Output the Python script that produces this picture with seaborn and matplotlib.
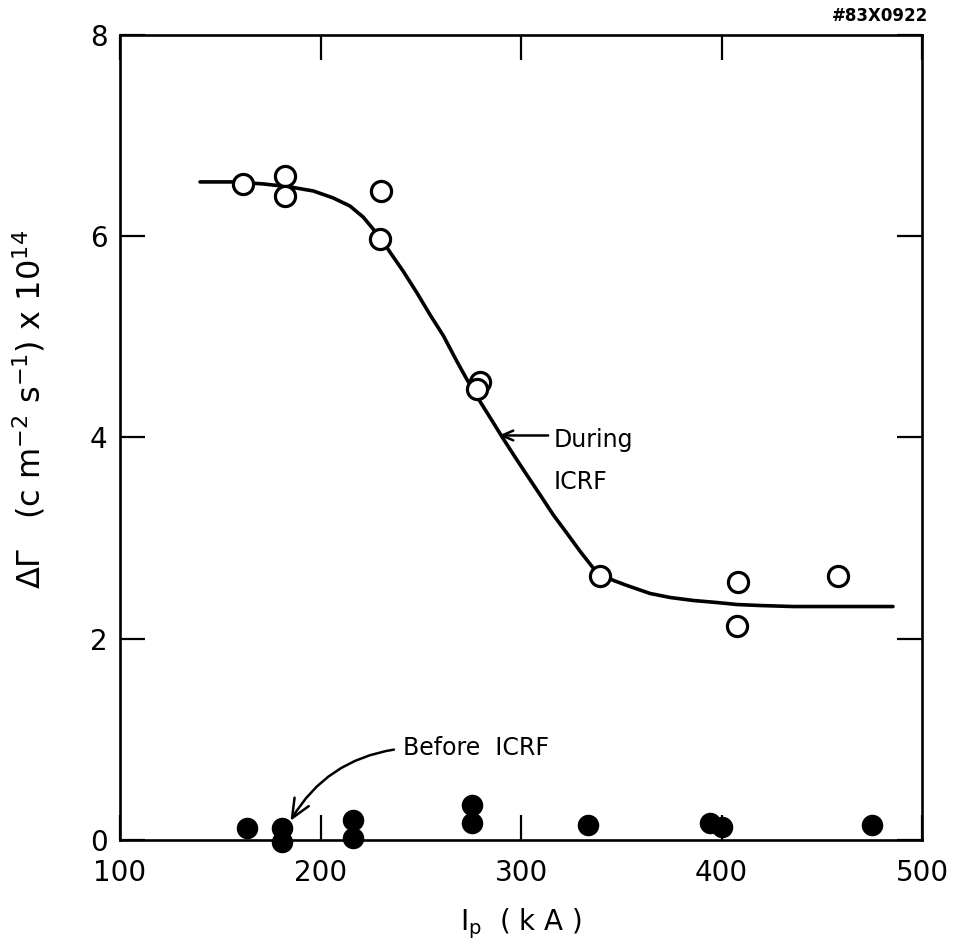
import matplotlib
matplotlib.use("Agg")
import matplotlib.pyplot as plt
import seaborn as sns
import pandas as pd

# During ICRF (open circles)
during_ip = [161.3, 182.3, 182.3, 230.2, 229.7, 279.6, 277.9, 339.4, 408.2, 407.7, 458.1]
during_val = [6.52, 6.60, 6.40, 6.45, 5.97, 4.55, 4.48, 2.62, 2.56, 2.13, 2.62]

# Before ICRF (filled circles)
before_ip = [163.2, 181.0, 181.0, 216.1, 216.1, 275.7, 275.7, 333.6, 394.0, 400.0, 475.0]
before_val = [0.12, 0.12, -0.02, 0.20, 0.02, 0.35, 0.17, 0.15, 0.17, 0.13, 0.15]

# Hand-drawn trend curve
curve_ip = [139.9, 156.5, 171.5, 184.8, 196.4, 206.4, 214.7, 221.3, 226.3, 229.7,
            234.7, 241.3, 248.0, 254.6, 261.3, 267.9, 272.9, 277.9, 284.5, 290.4,
            296.2, 302.8, 309.5, 316.1, 322.8, 329.4, 336.1, 340.2, 346.0, 352.7,
            364.3, 374.3, 385.9, 397.6, 407.6, 419.2, 435.7, 460.8, 485.5]
curve_val = [6.54, 6.54, 6.52, 6.49, 6.45, 6.38, 6.30, 6.19, 6.07, 5.99,
             5.84, 5.65, 5.44, 5.22, 5.01, 4.76, 4.58, 4.41, 4.20, 4.01,
             3.83, 3.63, 3.43, 3.23, 3.05, 2.87, 2.70, 2.64, 2.58, 2.53,
             2.45, 2.41, 2.38, 2.36, 2.34, 2.33, 2.32, 2.32, 2.32]

x_ticks = [100, 200, 300, 400, 500]
y_ticks = [0, 2, 4, 6, 8]

sns.set_style("ticks")
plt.rcParams["font.family"] = ["DejaVu Sans"]
plt.rcParams["text.color"] = "black"
plt.rcParams["axes.labelcolor"] = "black"
plt.rcParams["xtick.color"] = "black"
plt.rcParams["ytick.color"] = "black"

fig = plt.figure(figsize=(9.58, 9.49), dpi=100)
ax = fig.add_axes([0.1253, 0.1149, 0.8372, 0.8482])

curve_df = pd.DataFrame({"ip": curve_ip, "val": curve_val})
during_df = pd.DataFrame({"ip": during_ip, "val": during_val})
before_df = pd.DataFrame({"ip": before_ip, "val": before_val})

sns.lineplot(data=curve_df, x="ip", y="val", ax=ax, color="black", linewidth=2.6,
             sort=False, estimator=None, zorder=2)
sns.scatterplot(data=during_df, x="ip", y="val", ax=ax, marker="o", s=210,
                facecolor="white", edgecolor="black", linewidth=2.3, zorder=3,
                clip_on=False)
sns.scatterplot(data=before_df, x="ip", y="val", ax=ax, marker="o", s=240,
                color="black", edgecolor="black", linewidth=0, zorder=3,
                clip_on=False)

ax.set_xlim(100, 500)
ax.set_ylim(0, 8)
ax.set_xticks(x_ticks)
ax.set_yticks(y_ticks)
ax.tick_params(axis="both", which="major", direction="in", length=18, width=1.6,
               top=True, right=True, labelsize=20, colors="black")
ax.tick_params(axis="x", pad=14)
ax.tick_params(axis="y", pad=9)
for sp in ax.spines.values():
    sp.set_visible(True)
    sp.set_linewidth(1.9)
    sp.set_color("black")

ax.set_xlabel(r"I$_\mathrm{p}$  ( k A )", fontsize=20)
ax.set_ylabel(r"$\Delta\Gamma$   (c m$^{-2}$ s$^{-1}$) x 10$^{14}$", fontsize=23)
ax.xaxis.set_label_coords(0.5, -0.082)
ax.yaxis.set_label_coords(-0.09, 0.535)

# During ICRF label with horizontal arrow
ax.annotate("", xy=(289.0, 4.02), xytext=(313.5, 4.02),
            arrowprops=dict(arrowstyle="->,head_length=0.8,head_width=0.35",
                            color="black", lw=1.8, shrinkA=0, shrinkB=0))
ax.text(316.0, 3.98, "During", fontsize=17, ha="left", va="center")
ax.text(316.0, 3.56, "ICRF", fontsize=17, ha="left", va="center")

# Before ICRF label with curved arrow
ax.annotate("Before  ICRF", xy=(185.0, 0.19), xytext=(241, 0.91),
            fontsize=17, ha="left", va="center",
            arrowprops=dict(arrowstyle="->,head_length=0.8,head_width=0.35",
                            color="black", lw=1.8, shrinkA=4, shrinkB=0,
                            connectionstyle="arc3,rad=0.25",
                            relpos=(0.0, 0.5)))

fig.text(0.9186, 0.983, "#83X0922", fontsize=12, fontweight="bold",
         ha="center", va="center")

fig.savefig("out.png", dpi=100)
